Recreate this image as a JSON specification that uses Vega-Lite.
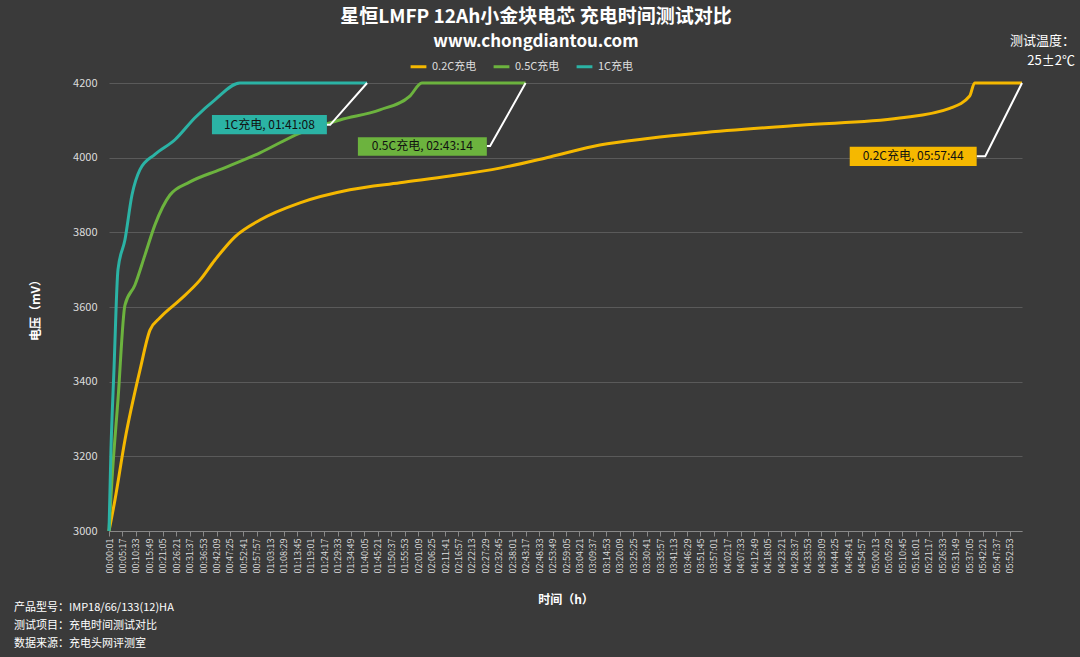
{
  "$schema": "https://vega.github.io/schema/vega-lite/v6.json",
  "width": 913,
  "height": 448,
  "autosize": "none",
  "padding": {"left": 109, "top": 83, "right": 58, "bottom": 126},
  "background": "#3a3a3a",
  "datasets": {
    "curves": [
      {"s": 1, "mv": 3000, "c": "0.2C充电"},
      {"s": 141, "mv": 3083, "c": "0.2C充电"},
      {"s": 376, "mv": 3244, "c": "0.2C充电"},
      {"s": 729, "mv": 3431, "c": "0.2C充电"},
      {"s": 964, "mv": 3538, "c": "0.2C充电"},
      {"s": 1199, "mv": 3571, "c": "0.2C充电"},
      {"s": 1668, "mv": 3619, "c": "0.2C充电"},
      {"s": 2138, "mv": 3672, "c": "0.2C充电"},
      {"s": 2491, "mv": 3726, "c": "0.2C充电"},
      {"s": 2961, "mv": 3788, "c": "0.2C充电"},
      {"s": 3549, "mv": 3833, "c": "0.2C充电"},
      {"s": 4489, "mv": 3879, "c": "0.2C充电"},
      {"s": 5664, "mv": 3914, "c": "0.2C充电"},
      {"s": 6839, "mv": 3933, "c": "0.2C充电"},
      {"s": 8014, "mv": 3951, "c": "0.2C充电"},
      {"s": 9189, "mv": 3972, "c": "0.2C充电"},
      {"s": 10364, "mv": 4002, "c": "0.2C充电"},
      {"s": 11539, "mv": 4034, "c": "0.2C充电"},
      {"s": 12714, "mv": 4052, "c": "0.2C充电"},
      {"s": 13889, "mv": 4066, "c": "0.2C充电"},
      {"s": 16239, "mv": 4087, "c": "0.2C充电"},
      {"s": 18589, "mv": 4106, "c": "0.2C充电"},
      {"s": 19764, "mv": 4132, "c": "0.2C充电"},
      {"s": 20234, "mv": 4165, "c": "0.2C充电"},
      {"s": 20351, "mv": 4200, "c": "0.2C充电"},
      {"s": 21464, "mv": 4200, "c": "0.2C充电"},
      {"s": 1, "mv": 3000, "c": "0.5C充电"},
      {"s": 71, "mv": 3137, "c": "0.5C充电"},
      {"s": 212, "mv": 3351, "c": "0.5C充电"},
      {"s": 376, "mv": 3605, "c": "0.5C充电"},
      {"s": 611, "mv": 3659, "c": "0.5C充电"},
      {"s": 846, "mv": 3739, "c": "0.5C充电"},
      {"s": 1081, "mv": 3820, "c": "0.5C充电"},
      {"s": 1434, "mv": 3900, "c": "0.5C充电"},
      {"s": 1904, "mv": 3935, "c": "0.5C充电"},
      {"s": 2609, "mv": 3968, "c": "0.5C充电"},
      {"s": 3549, "mv": 4013, "c": "0.5C充电"},
      {"s": 4489, "mv": 4066, "c": "0.5C充电"},
      {"s": 5429, "mv": 4101, "c": "0.5C充电"},
      {"s": 6369, "mv": 4128, "c": "0.5C充电"},
      {"s": 7074, "mv": 4165, "c": "0.5C充电"},
      {"s": 7356, "mv": 4200, "c": "0.5C充电"},
      {"s": 9794, "mv": 4200, "c": "0.5C充电"},
      {"s": 1, "mv": 3000, "c": "1C充电"},
      {"s": 47, "mv": 3217, "c": "1C充电"},
      {"s": 118, "mv": 3432, "c": "1C充电"},
      {"s": 212, "mv": 3700, "c": "1C充电"},
      {"s": 376, "mv": 3780, "c": "1C充电"},
      {"s": 541, "mv": 3900, "c": "1C充电"},
      {"s": 729, "mv": 3968, "c": "1C充电"},
      {"s": 1081, "mv": 4009, "c": "1C充电"},
      {"s": 1551, "mv": 4048, "c": "1C充电"},
      {"s": 2021, "mv": 4107, "c": "1C充电"},
      {"s": 2491, "mv": 4155, "c": "1C充电"},
      {"s": 3079, "mv": 4200, "c": "1C充电"},
      {"s": 6068, "mv": 4200, "c": "1C充电"}
    ],
    "boxes": [
      {"c": "1C充电", "label": "1C充电, 01:41:08", "x1": 2421, "x2": 5123, "y1": 4063, "y2": 4114},
      {"c": "0.5C充电", "label": "0.5C充电, 02:43:14", "x1": 5852, "x2": 8883, "y1": 4005, "y2": 4055},
      {"c": "0.2C充电", "label": "0.2C充电, 05:57:44", "x1": 17414, "x2": 20398, "y1": 3978, "y2": 4029}
    ],
    "leaders": [
      {"c": "1C充电", "o": 1, "s": 6068, "mv": 4200},
      {"c": "1C充电", "o": 2, "s": 5200, "mv": 4088},
      {"c": "1C充电", "o": 3, "s": 5123, "mv": 4088},
      {"c": "0.5C充电", "o": 1, "s": 9794, "mv": 4200},
      {"c": "0.5C充电", "o": 2, "s": 8960, "mv": 4031},
      {"c": "0.5C充电", "o": 3, "s": 8883, "mv": 4031},
      {"c": "0.2C充电", "o": 1, "s": 21464, "mv": 4200},
      {"c": "0.2C充电", "o": 2, "s": 20600, "mv": 4004},
      {"c": "0.2C充电", "o": 3, "s": 20398, "mv": 4004}
    ],
    "notes": [
      {"t": "产品型号：IMP18/66/133(12)HA", "py": 525},
      {"t": "测试项目：充电时间测试对比", "py": 543},
      {"t": "数据来源：充电头网评测室", "py": 561}
    ]
  },
  "layer": [
    {
      "data": {"name": "curves"},
      "mark": {"type": "line", "strokeWidth": 3, "interpolate": "monotone"},
      "encoding": {
        "x": {
          "field": "s", "type": "quantitative",
          "scale": {"domain": [1, 21464], "nice": false, "zero": false},
          "title": "时间（h）",
          "axis": {
            "values": [1,317,633,949,1265,1581,1897,2213,2529,2845,3161,3477,3793,4109,4425,4741,5057,5373,5689,6005,6321,6637,6953,7269,7585,7901,8217,8533,8849,9165,9481,9797,10113,10429,10745,11061,11377,11693,12009,12325,12641,12957,13273,13589,13905,14221,14537,14853,15169,15485,15801,16117,16433,16749,17065,17381,17697,18013,18329,18645,18961,19277,19593,19909,20225,20541,20857,21173],
            "tickCount": 200,
            "labelExpr": "utcFormat(datum.value * 1000, '%H:%M:%S')",
            "labelAngle": -90,
            "labelFontSize": 9,
            "labelColor": "#dddddd",
            "labelOverlap": false,
            "labelSeparation": 0,
            "grid": false,
            "domainColor": "#888888",
            "tickColor": "#888888",
            "titleColor": "white",
            "titleFontSize": 12,
            "titlePadding": 22
          }
        },
        "y": {
          "field": "mv", "type": "quantitative",
          "scale": {"domain": [3000, 4200], "zero": false, "nice": false},
          "title": "电压（mV）",
          "axis": {
            "values": [3000, 3200, 3400, 3600, 3800, 4000, 4200],
            "format": "d",
            "labelColor": "#dddddd",
            "labelFontSize": 11,
            "gridColor": "#5a5a5a",
            "domain": false,
            "ticks": false,
            "labelPadding": 12,
            "titleColor": "white",
            "titleFontSize": 12,
            "titlePadding": 30
          }
        },
        "color": {
          "field": "c", "type": "nominal",
          "scale": {"domain": ["0.2C充电", "0.5C充电", "1C充电"], "range": ["#f5b800", "#6cb33e", "#2bb3a5"]},
          "legend": {
            "title": null, "orient": "none", "direction": "horizontal",
            "legendX": 300, "legendY": -26,
            "symbolType": "stroke", "symbolStrokeWidth": 3, "symbolSize": 250,
            "labelColor": "#dddddd", "labelFontSize": 11
          }
        }
      }
    },
    {
      "data": {"name": "leaders"},
      "mark": {"type": "line", "color": "white", "strokeWidth": 2},
      "encoding": {
        "x": {"field": "s", "type": "quantitative"},
        "y": {"field": "mv", "type": "quantitative"},
        "detail": {"field": "c"},
        "order": {"field": "o"}
      }
    },
    {
      "data": {"name": "boxes"},
      "mark": {"type": "rect"},
      "encoding": {
        "x": {"field": "x1", "type": "quantitative"},
        "x2": {"field": "x2"},
        "y": {"field": "y1", "type": "quantitative"},
        "y2": {"field": "y2"},
        "color": {"field": "c", "type": "nominal", "legend": null}
      }
    },
    {
      "data": {"name": "boxes"},
      "transform": [
        {"calculate": "(datum.x1 + datum.x2) / 2", "as": "xm"},
        {"calculate": "(datum.y1 + datum.y2) / 2", "as": "ym"}
      ],
      "mark": {"type": "text", "fontSize": 12, "color": "#111111", "baseline": "middle"},
      "encoding": {
        "x": {"field": "xm", "type": "quantitative"},
        "y": {"field": "ym", "type": "quantitative"},
        "text": {"field": "label"}
      }
    },
    {
      "data": {"name": "notes"},
      "mark": {"type": "text", "align": "left", "fontSize": 11, "color": "white", "x": -95},
      "encoding": {
        "y": {"field": "py", "type": "quantitative", "scale": null},
        "text": {"field": "t"}
      }
    },
    {
      "data": {"values": [{"t": "测试温度：", "py": -42}, {"t": "25±2℃", "py": -22}]},
      "mark": {"type": "text", "align": "right", "fontSize": 13, "color": "white", "x": 966},
      "encoding": {
        "y": {"field": "py", "type": "quantitative", "scale": null},
        "text": {"field": "t"}
      }
    },
    {
      "data": {"values": [
        {"t": "星恒LMFP 12Ah小金块电芯 充电时间测试对比", "py": -66, "f": "Noto Sans CJK SC", "fs": 19},
        {"t": "www.chongdiantou.com", "py": -41, "f": "DejaVu Sans", "fs": 17}
      ]},
      "mark": {"type": "text", "align": "center", "color": "white", "fontWeight": "bold", "x": 427},
      "encoding": {
        "y": {"field": "py", "type": "quantitative", "scale": null},
        "text": {"field": "t"},
        "font": {"field": "f"},
        "size": {"field": "fs", "type": "quantitative", "scale": null, "legend": null}
      }
    }
  ],
  "config": {
    "font": "Noto Sans CJK SC",
    "view": {"stroke": null},
    "axisX": {"labelOverlap": false}
  }
}
